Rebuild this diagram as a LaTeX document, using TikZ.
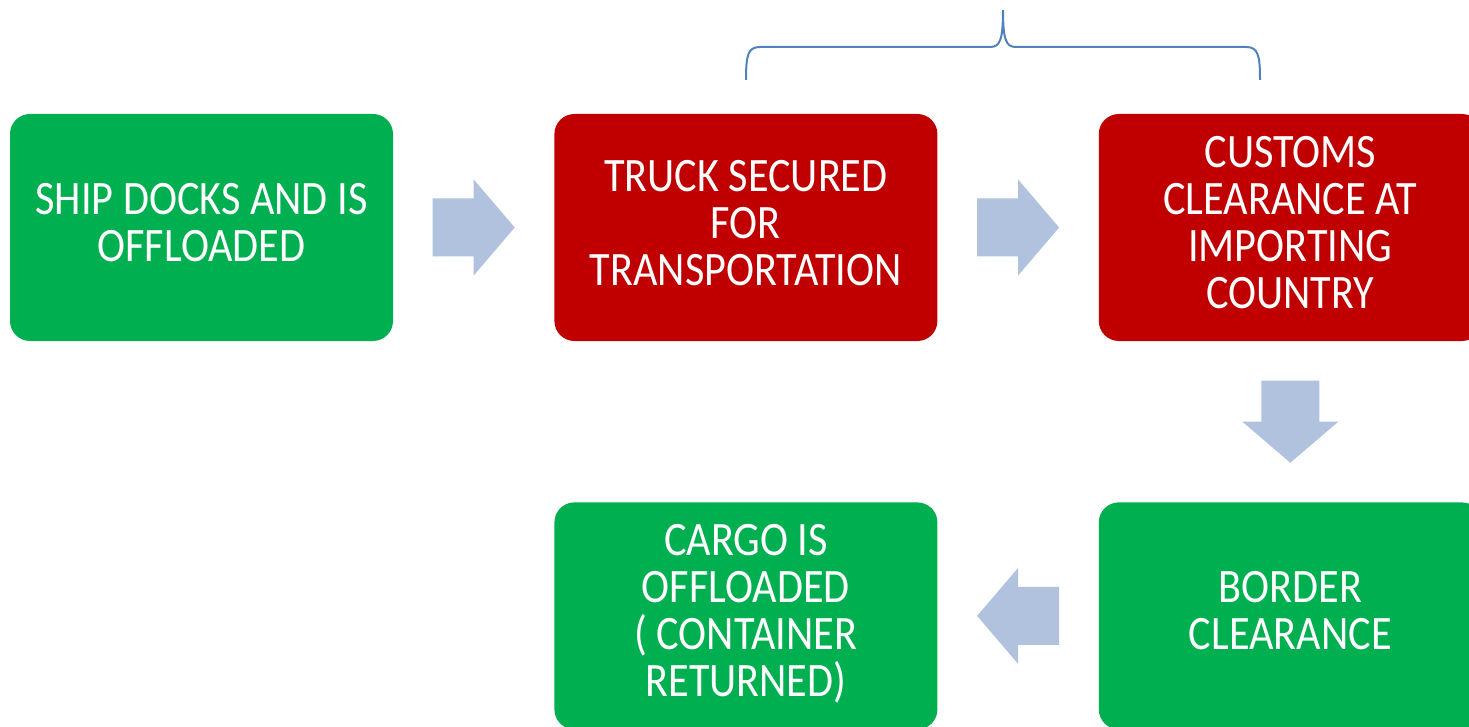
\documentclass[tikz,border=0pt]{standalone}
\usepackage{xcolor}
\usepackage{fontspec}
\usepackage{tikz}
\usetikzlibrary{positioning,calc}
\newfontfamily\boxfont{Carlito}[FakeStretch=0.88]
\definecolor{stepgreen}{HTML}{00B050}
\definecolor{stepred}{HTML}{C00000}
\definecolor{arrowblue}{HTML}{B0C2DE}
\definecolor{braceblue}{HTML}{4F81BD}
\tikzset{
  stepbox/.style={minimum width=383pt, minimum height=227pt, rounded corners=20pt,
    align=center, text=white, inner sep=0pt, text depth=10pt,
    font=\boxfont\fontsize{48}{47}\selectfont},
  greenbox/.style={stepbox, fill=stepgreen},
  redbox/.style={stepbox, fill=stepred},
  blockarrow/.style={fill=arrowblue},
  bracket/.style={draw=braceblue, line width=2pt}
}
\begin{document}
\begin{tikzpicture}[x=1pt,y=-1pt]
			\useasboundingbox (0,0) rectangle (1469,727);
			\node[greenbox] (ship) at (201.5,227.5) {SHIP DOCKS AND IS\\OFFLOADED};
			\node[redbox, right=161pt of ship] (truck) {TRUCK SECURED\\FOR\\TRANSPORTATION};
			\node[redbox, right=161pt of truck] (customs) {CUSTOMS\\CLEARANCE AT\\IMPORTING\\COUNTRY};
			\node[greenbox, below=161pt of customs] (border) {BORDER\\CLEARANCE};
			\node[greenbox, left=161pt of border] (cargo) {CARGO IS\\OFFLOADED\\( CONTAINER\\RETURNED)};
			\coordinate (a1) at ($(ship.east)!0.5!(truck.west)$);
			\coordinate (a2) at ($(truck.east)!0.5!(customs.west)$);
			\coordinate (a3) at ($(customs.south)!0.5!(border.north)$);
			\coordinate (a4) at ($(cargo.east)!0.5!(border.west)$);
			\fill[blockarrow, shift={(a1)}] (-41,-29) -- (0,-29) -- (0,-48) -- (41,0) -- (0,48) -- (0,29) -- (-41,29) -- cycle;
			\fill[blockarrow, shift={(a2)}] (-41,-29) -- (0,-29) -- (0,-48) -- (41,0) -- (0,48) -- (0,29) -- (-41,29) -- cycle;
			\fill[blockarrow, shift={(a3)}] (-29,-41) -- (29,-41) -- (29,0) -- (48,0) -- (0,41) -- (-48,0) -- (-29,0) -- cycle;
			\fill[blockarrow, shift={(a4)}] (41,-29) -- (0,-29) -- (0,-48) -- (-41,0) -- (0,48) -- (0,29) -- (41,29) -- cycle;
			\coordinate (bl) at (746,80);
			\coordinate (br) at (1260,80);
			\coordinate (bt) at (1003,10);
			\draw[bracket] (bl) .. controls (746,55) and (748,47) .. (760,47) -- (990,47)
				.. controls (1000,47) and (1003,40) .. (bt)
				.. controls (1003,40) and (1006,47) .. (1016,47) -- (1246,47)
				.. controls (1258,47) and (1260,55) .. (br);
		\end{tikzpicture}
\end{document}
